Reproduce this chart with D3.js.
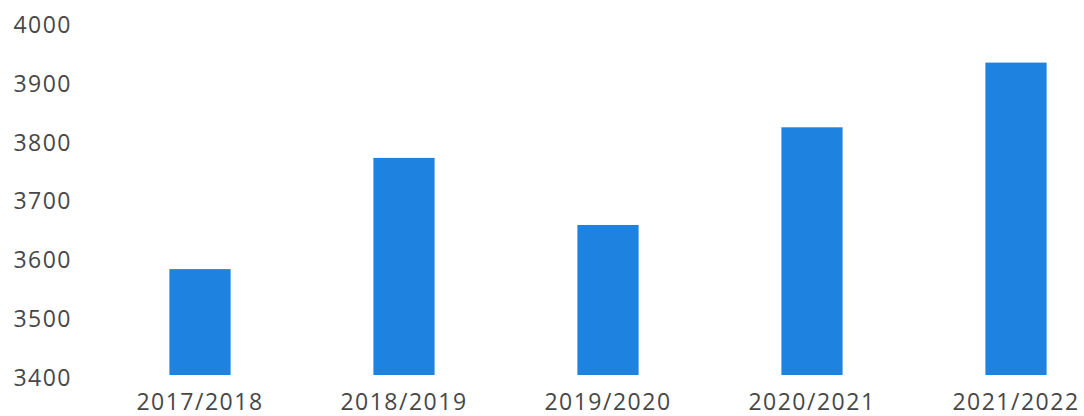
<!DOCTYPE html>
<html>
<head>
<meta charset="utf-8">
<script src="https://cdn.jsdelivr.net/npm/d3@7.9.0/dist/d3.min.js"></script>
<style>
  body { margin: 0; background: #fff; }
  text { font-family: "Open Sans", sans-serif; fill: #474747; }
</style>
</head>
<body>
<div id="chart"></div>
<script>
// Values
const seasons = ["2017/2018", "2018/2019", "2019/2020", "2020/2021", "2021/2022"];
const values = [3580, 3769, 3655, 3821, 3931];
const yTicks = [3400, 3500, 3600, 3700, 3800, 3900, 4000];

const width = 1084;
const height = 416;

const svg = d3.select('#chart')
    .append('svg')
    .attr('width', width)
    .attr('height', height);

// Scales
const xScale = d3.scaleBand()
    .domain(seasons)
    .range([98, 1118])
    .paddingInner(0.7)
    .paddingOuter(0.35);

const yScale = d3.scaleLinear()
    .domain([3400, 4000])
    .range([375, 22]);

// Y axis labels only, no line
const yAxis = d3.axisLeft(yScale)
    .tickValues(yTicks)
    .tickSize(0)
    .tickPadding(0)
    .tickFormat(d3.format('d'));

svg.append('g')
    .attr('transform', 'translate(72, 3)')
    .call(yAxis)
    .call(g => g.select('.domain').remove())
    .selectAll('text')
    .attr('font-size', 23)
    .style('font-family', '"Open Sans", sans-serif')
    .style('letter-spacing', '1.5px')
    .attr('fill', '#474747');

// Bars
const data = seasons.map((s, i) => ({ season: s, value: values[i] }));

svg.append('g')
    .selectAll('rect')
    .data(data)
    .join('rect')
    .attr('x', d => xScale(d.season))
    .attr('y', d => yScale(d.value))
    .attr('width', xScale.bandwidth())
    .attr('height', d => yScale(3400) - yScale(d.value))
    .attr('fill', '#1e82e0');

// X axis labels
const xAxis = d3.axisBottom(xScale).tickSize(0).tickPadding(0);
svg.append('g')
    .attr('transform', 'translate(0, 394)')
    .call(xAxis)
    .call(g => g.select('.domain').remove())
    .selectAll('text')
    .attr('font-size', 23)
    .style('font-family', '"Open Sans", sans-serif')
    .style('letter-spacing', '1.5px')
    .attr('fill', '#474747');
</script>
</body>
</html>
